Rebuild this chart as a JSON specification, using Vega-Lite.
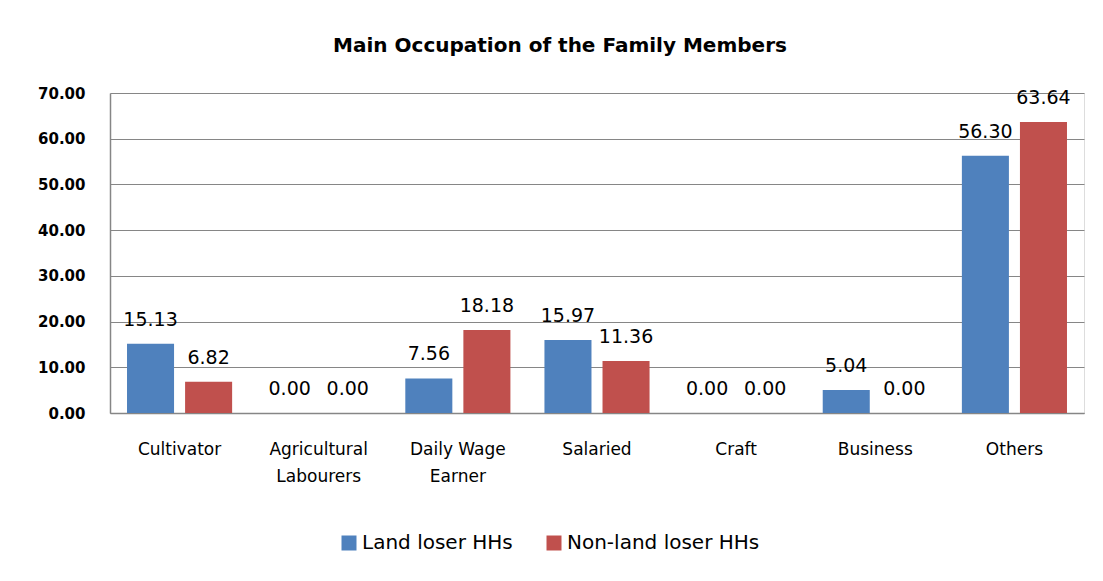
{
  "$schema": "https://vega.github.io/schema/vega-lite/v6.json",
  "width": 974,
  "height": 320,
  "autosize": {"type": "none"},
  "padding": {"left": 110, "top": 93, "right": 19, "bottom": 168},
  "background": "white",
  "title": {
    "text": "Main Occupation of the Family Members",
    "fontSize": 20,
    "fontWeight": "bold",
    "font": "DejaVu Sans",
    "color": "black",
    "anchor": "middle",
    "baseline": "alphabetic",
    "offset": 41,
    "dx": -37,
    "dy": 27
  },
  "data": {
    "values": [
      {"category": "Cultivator", "series": "Land loser HHs", "value": 15.13},
      {"category": "Cultivator", "series": "Non-land loser HHs", "value": 6.82},
      {"category": "Agricultural Labourers", "series": "Land loser HHs", "value": 0.0},
      {"category": "Agricultural Labourers", "series": "Non-land loser HHs", "value": 0.0},
      {"category": "Daily Wage Earner", "series": "Land loser HHs", "value": 7.56},
      {"category": "Daily Wage Earner", "series": "Non-land loser HHs", "value": 18.18},
      {"category": "Salaried", "series": "Land loser HHs", "value": 15.97},
      {"category": "Salaried", "series": "Non-land loser HHs", "value": 11.36},
      {"category": "Craft", "series": "Land loser HHs", "value": 0.0},
      {"category": "Craft", "series": "Non-land loser HHs", "value": 0.0},
      {"category": "Business", "series": "Land loser HHs", "value": 5.04},
      {"category": "Business", "series": "Non-land loser HHs", "value": 0.0},
      {"category": "Others", "series": "Land loser HHs", "value": 56.30},
      {"category": "Others", "series": "Non-land loser HHs", "value": 63.64}
    ]
  },
  "encoding": {
    "x": {
      "field": "category",
      "type": "nominal",
      "sort": null,
      "scale": {"paddingInner": 0, "paddingOuter": 0},
      "axis": {
        "title": null,
        "labelAngle": 0,
        "ticks": false,
        "domainColor": "#868686",
        "domainWidth": 1.5,
        "labelFont": "DejaVu Sans",
        "labelFontSize": 17,
        "labelColor": "black",
        "labelPadding": 28,
        "labelLineHeight": 27,
        "labelExpr": "datum.value == 'Agricultural Labourers' ? ['Agricultural', 'Labourers'] : datum.value == 'Daily Wage Earner' ? ['Daily Wage', 'Earner'] : datum.value"
      }
    },
    "xOffset": {
      "field": "series",
      "type": "nominal",
      "scale": {"paddingInner": 0.19, "paddingOuter": 0.293}
    },
    "y": {
      "field": "value",
      "type": "quantitative",
      "scale": {"domain": [0, 70], "nice": false},
      "axis": {
        "title": null,
        "values": [0, 10, 20, 30, 40, 50, 60, 70],
        "format": ".2f",
        "ticks": false,
        "grid": true,
        "gridColor": "#868686",
        "gridWidth": 1,
        "domainColor": "#868686",
        "domainWidth": 1.5,
        "labelFont": "DejaVu Sans",
        "labelFontSize": 15,
        "labelFontWeight": "bold",
        "labelColor": "black",
        "labelPadding": 25
      }
    }
  },
  "layer": [
    {
      "mark": {"type": "bar"},
      "encoding": {
        "color": {
          "field": "series",
          "type": "nominal",
          "scale": {"domain": ["Land loser HHs", "Non-land loser HHs"], "range": ["#4F81BD", "#C0504D"]},
          "legend": {
            "title": null,
            "orient": "none",
            "legendX": 229,
            "legendY": 440,
            "direction": "horizontal",
            "symbolType": "square",
            "symbolSize": 225,
            "symbolStrokeWidth": 0,
            "labelFont": "DejaVu Sans",
            "labelFontSize": 20,
            "labelColor": "black",
            "labelOffset": 3,
            "columnPadding": 31,
            "labelLimit": 400
          }
        }
      }
    },
    {
      "mark": {"type": "text", "dy": -18, "baseline": "alphabetic", "font": "DejaVu Sans", "fontSize": 19, "color": "black"},
      "encoding": {
        "text": {"field": "value", "type": "quantitative", "format": ".2f"}
      }
    }
  ]
}
